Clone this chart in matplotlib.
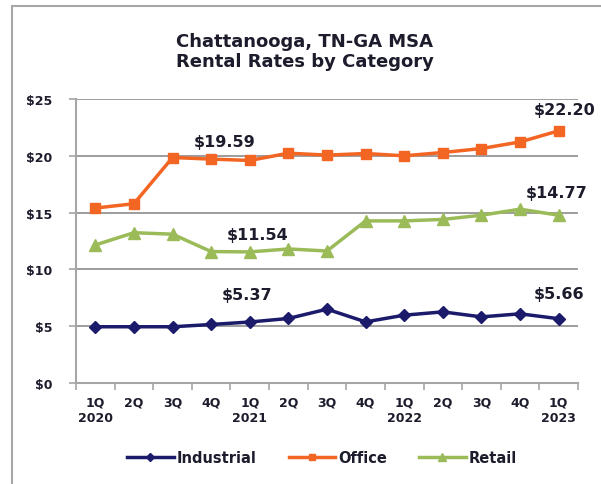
import matplotlib
matplotlib.use('agg')
import matplotlib.pyplot as plt
from matplotlib.patches import Rectangle

# Quarters on the x axis
quarters = ['1Q\n2020', '2Q', '3Q', '4Q', '1Q\n2021', '2Q', '3Q', '4Q',
            '1Q\n2022', '2Q', '3Q', '4Q', '1Q\n2023']

# Rental rates ($)
industrial = [4.95, 4.95, 4.95, 5.15, 5.37, 5.68, 6.50, 5.38, 5.97, 6.26, 5.82, 6.09, 5.66]
office = [15.40, 15.78, 19.85, 19.71, 19.59, 20.23, 20.06, 20.20, 20.00, 20.29, 20.64, 21.22, 22.20]
retail = [12.15, 13.23, 13.10, 11.57, 11.54, 11.80, 11.62, 14.27, 14.27, 14.40, 14.77, 15.30, 14.77]

# Value callouts: (x index, y position, text)
callouts = [
    (3.35, 21.3, '$19.59'),
    (4.2, 13.1, '$11.54'),
    (3.93, 7.75, '$5.37'),
    (12.15, 24.1, '$22.20'),
    (11.95, 16.8, '$14.77'),
    (12.0, 7.85, '$5.66'),
]

navy = '#1b1a6b'
orange = '#f26522'
green = '#9bbb59'
txt = '#1c1c2c'

fig = plt.figure(figsize=(6.01, 4.85), dpi=100)
ax = fig.add_axes([76 / 601, 1 - 384 / 485, (578 - 76) / 601, (384 - 100) / 485])

# outer frame (only left and top edges show in the crop)
fig.patches.append(Rectangle((12 / 601, -0.1), 1.2, 1 - 7 / 485 + 0.1, transform=fig.transFigure,
                             fill=False, edgecolor='#a6a6a6', linewidth=1.5))

x = list(range(len(quarters)))
ax.plot(x, industrial, color=navy, lw=2.5, marker='D', ms=6.5, label='Industrial')
ax.plot(x, office, color=orange, lw=2.5, marker='s', ms=7, label='Office')
ax.plot(x, retail, color=green, lw=2.5, marker='^', ms=8.5, label='Retail')

ax.set_xlim(-0.5, len(quarters) - 0.5)
ax.set_ylim(0, 25)
ax.set_yticks(range(0, 26, 5))
ax.set_yticklabels(['$%d' % v for v in range(0, 26, 5)], fontweight='bold', fontsize=9, color=txt)
ax.set_xticks(x)
ax.set_xticklabels(quarters, fontweight='bold', fontsize=9, color=txt, linespacing=1.3)
ax.set_xticks([i - 0.5 for i in range(len(quarters) + 1)], minor=True)
ax.tick_params(axis='x', which='major', length=0, pad=9)
ax.tick_params(axis='x', which='minor', length=5, color='#a6a6a6', width=1.2)
ax.tick_params(axis='y', length=5, color='#a6a6a6', width=1.2, pad=12)

ax.grid(axis='y', color='#8c8c8c', lw=1.2)
ax.set_axisbelow(True)
for s in ['top', 'right']:
    ax.spines[s].set_visible(False)
for s in ['left', 'bottom']:
    ax.spines[s].set_color('#a6a6a6')
    ax.spines[s].set_linewidth(1.5)

for cx, cy, t in callouts:
    ax.text(cx, cy, t, ha='center', va='center', fontsize=11.5, fontweight='bold', color=txt)

fig.text(305 / 601, 1 - 52 / 485, 'Chattanooga, TN-GA MSA\nRental Rates by Category',
         ha='center', va='center', fontsize=13, fontweight='bold', color=txt, linespacing=1.2)

fig.legend(loc='center', bbox_to_anchor=(322 / 601, 1 - 459 / 485), ncol=3, frameon=False,
           handlelength=3.2, columnspacing=2.2, handletextpad=0.2, markerscale=0.6,
           prop={'weight': 'bold', 'size': 10.5}, labelcolor=txt)

plt.savefig('out.png', dpi=100)
plt.close()
